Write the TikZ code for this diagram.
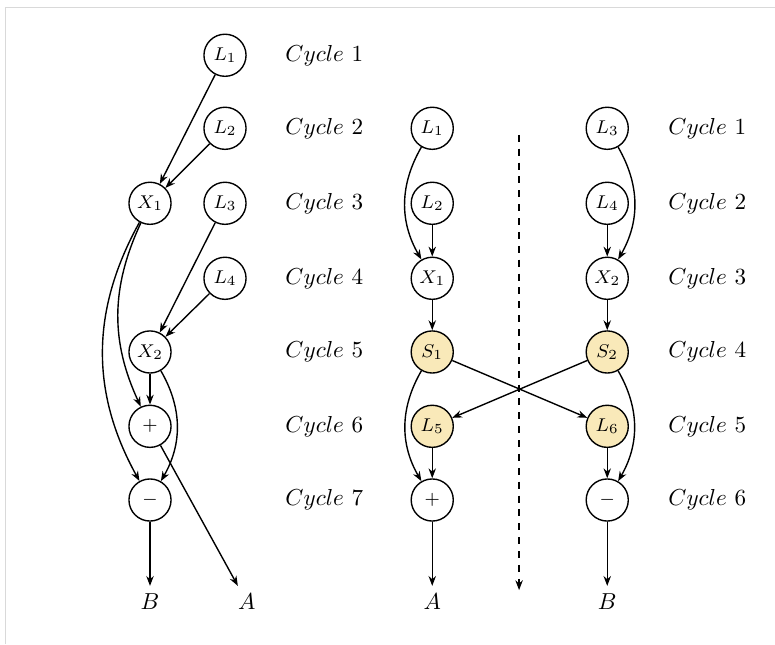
\documentclass[tikz,border=0pt]{standalone}
\usetikzlibrary{automata, arrows.meta, positioning}
\definecolor{spillfill}{RGB}{249,233,185}
\tikzset{every state/.style={draw, circle, minimum size=0.64cm, inner sep=0pt, font=\footnotesize, semithick},
  spilled/.style={fill=spillfill},
  cyclelabel/.style={font=\normalsize}}

\begin{document}
\begin{tikzpicture}
\useasboundingbox (0,0) rectangle (11.78,-9.79);
\draw [gray!30] (0.09,-9.79) -- (0.09,-0.12) -- (11.78,-0.12);
%Unscheduled:
\node (L1) [state] at (3.42,-0.84) {$L_1$};
\node (L2) [state] at (3.42,-1.95) {$L_2$};
\node (X1) [state] at (2.28,-3.09) {$X_1$};
\node (L3) [state] at (3.42,-3.09) {$L_3$};
\node (L4) [state] at (3.42,-4.23) {$L_4$};
\node (X2) [state] at (2.28,-5.35) {$X_2$};
\node (P) [state] at (2.28,-6.48) {$+$};
\node (M) [state] at (2.28,-7.60) {$-$};
\node (B) at (2.28,-9.15) {$B$};
\node (A) at (3.75,-9.15) {$A$};
\node (c1) [cyclelabel] at (4.93,-0.84) {$Cycle$ 1};
\node (c2) [cyclelabel] at (4.93,-1.95) {$Cycle$ 2};
\node (c3) [cyclelabel] at (4.93,-3.09) {$Cycle$ 3};
\node (c4) [cyclelabel] at (4.93,-4.23) {$Cycle$ 4};
\node (c5) [cyclelabel] at (4.93,-5.35) {$Cycle$ 5};
\node (c6) [cyclelabel] at (4.93,-6.48) {$Cycle$ 6};
\node (c7) [cyclelabel] at (4.93,-7.60) {$Cycle$ 7};
%Split:
\node (SL1) [state] at (6.57,-1.95) {$L_1$};
\node (SL2) [state] at (6.57,-3.09) {$L_2$};
\node (SX1) [state] at (6.57,-4.23) {$X_1$};
\node (S1) [state, spilled] at (6.57,-5.35) {$S_1$};
\node (L5) [state, spilled] at (6.57,-6.48) {$L_5$};
\node (SP) [state] at (6.57,-7.60) {$+$};
\node (SA) at (6.57,-9.15) {$A$};
\node (SL3) [state] at (9.23,-1.95) {$L_3$};
\node (SL4) [state] at (9.23,-3.09) {$L_4$};
\node (SX2) [state] at (9.23,-4.23) {$X_2$};
\node (S2) [state, spilled] at (9.23,-5.35) {$S_2$};
\node (L6) [state, spilled] at (9.23,-6.48) {$L_6$};
\node (SM) [state] at (9.23,-7.60) {$-$};
\node (SB) at (9.23,-9.15) {$B$};
\node (d1) [cyclelabel] at (10.75,-1.95) {$Cycle$ 1};
\node (d2) [cyclelabel] at (10.75,-3.09) {$Cycle$ 2};
\node (d3) [cyclelabel] at (10.75,-4.23) {$Cycle$ 3};
\node (d4) [cyclelabel] at (10.75,-5.35) {$Cycle$ 4};
\node (d5) [cyclelabel] at (10.75,-6.48) {$Cycle$ 5};
\node (d6) [cyclelabel] at (10.75,-7.60) {$Cycle$ 6};
\coordinate (DT) at (7.89,-2.05);
\coordinate (DB) at (7.89,-8.97);
%Dependencies:
\path [semithick, -{Stealth[length=1.5mm]}]
(L1) edge (X1)
(L2) edge (X1)
(L3) edge (X2)
(L4) edge (X2)
(X1) edge [bend right=25] (P)
(X1) edge [bend right=29] (M)
(X2) edge (P)
(X2) edge [bend left=30] (M)
(P) edge (A)
(M) edge (B)
;
\path [semithick, -{Stealth[length=1.5mm]}]
(SL1) edge [bend right=30] (SX1)
(SL2) edge (SX1)
(SX1) edge (S1)
(S1) edge [bend right=30] (SP)
(S1) edge (L6)
(L5) edge (SP)
(SP) edge (SA)
(SL3) edge [bend left=30] (SX2)
(SL4) edge (SX2)
(SX2) edge (S2)
(S2) edge [bend left=30] (SM)
(S2) edge (L5)
(L6) edge (SM)
(SM) edge (SB)
(DT) edge [dashed] (DB)
;
\end{tikzpicture}
\end{document}
